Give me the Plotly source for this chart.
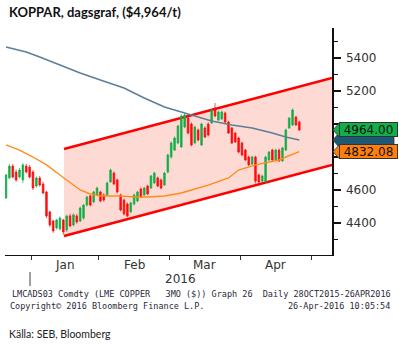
import plotly.graph_objects as go

# ---- LME copper 3M, daily candles (trading-day index 0..87) ----
opens = [4552, 4673, 4745, 4709, 4679, 4661, 4745, 4739,
         4709, 4624, 4673, 4636, 4588, 4467, 4412, 4370, 4364, 4418, 4358, 4443,
         4388, 4443, 4412, 4430, 4509, 4564, 4527, 4570,
         4588, 4570, 4570, 4649, 4703, 4661, 4570, 4539, 4515, 4467, 4515, 4533,
         4606, 4570, 4624, 4612, 4643, 4673, 4661, 4630, 4709,
         4800, 4842, 4885, 4861, 4982, 5036, 5000, 4885, 4964, 4873, 4976,
         5000, 5006, 5097, 5024, 5030, 5067, 5012, 4976, 4945, 4915,
         4885, 4842, 4800, 4758, 4800, 4691, 4655, 4649, 4782, 4842,
         4782, 4842, 4776, 4842, 4976, 4994, 5042, 5012]
highs = [4697, 4758, 4757, 4725, 4733, 4764, 4758, 4752,
         4721, 4682, 4685, 4650, 4595, 4475, 4420, 4425, 4440, 4425, 4450, 4455,
         4460, 4455, 4500, 4515, 4565, 4572, 4595, 4620,
         4595, 4580, 4650, 4730, 4712, 4670, 4578, 4548, 4525, 4530, 4578, 4595,
         4615, 4620, 4632, 4692, 4710, 4682, 4670, 4710, 4820,
         4895, 4925, 4995, 5060, 5065, 5045, 5010, 4990, 4972, 5008, 4985,
         5010, 5092, 5127, 5080, 5082, 5075, 5020, 4982, 4952, 4922,
         4892, 4850, 4808, 4808, 4808, 4700, 4692, 4808, 4838, 4850,
         4850, 4850, 4862, 4972, 5042, 5095, 5050, 5020]
lows = [4545, 4667, 4670, 4650, 4670, 4643, 4700, 4670,
        4600, 4615, 4620, 4575, 4430, 4375, 4340, 4360, 4355, 4328, 4345, 4375,
        4380, 4395, 4405, 4420, 4500, 4500, 4520, 4565,
        4525, 4530, 4565, 4643, 4630, 4580, 4470, 4445, 4435, 4460, 4505, 4525,
        4550, 4565, 4570, 4605, 4636, 4618, 4605, 4624, 4700,
        4790, 4836, 4878, 4855, 4975, 4938, 4865, 4878, 4895, 4866, 4915,
        4925, 5000, 5040, 5018, 5024, 5006, 4940, 4878, 4885, 4822,
        4805, 4775, 4745, 4752, 4640, 4642, 4648, 4642, 4775, 4775,
        4775, 4770, 4770, 4836, 4970, 4988, 4988, 4958]
closes = [4691, 4745, 4679, 4661, 4721, 4752, 4709, 4679,
          4612, 4673, 4630, 4582, 4443, 4388, 4352, 4418, 4430, 4346, 4443, 4382,
          4449, 4406, 4491, 4509, 4558, 4509, 4588, 4612,
          4533, 4539, 4643, 4721, 4636, 4588, 4479, 4455, 4443, 4521, 4570, 4588,
          4558, 4612, 4576, 4685, 4703, 4624, 4612, 4703, 4812,
          4885, 4915, 4988, 5049, 5055, 4945, 4873, 4982, 4903, 5000, 4921,
          4933, 5085, 5049, 5073, 5073, 5012, 4945, 4885, 4891, 4830,
          4812, 4782, 4752, 4800, 4655, 4649, 4685, 4800, 4830, 4782,
          4842, 4776, 4855, 4964, 5036, 5085, 4994, 4964]
day_idx = list(range(len(closes)))

# moving averages, read at selected trading days
ma_slow_idx = [0, 6, 10, 16, 22, 28, 35, 41, 47, 52, 56, 61, 67, 73, 79, 83, 87]
ma_slow = [5467, 5436, 5406, 5358, 5309, 5267, 5218, 5158, 5103, 5073, 5048,
           5018, 4994, 4976, 4945, 4921, 4903]
ma_fast_idx = [0, 4, 8, 12, 16, 19, 22, 25, 28, 31, 34, 38, 42, 47, 52, 55, 60,
               66, 69, 74, 78, 81, 83, 87]
ma_fast = [4873, 4842, 4800, 4752, 4691, 4643, 4600, 4576, 4564, 4564, 4564,
           4558, 4558, 4564, 4582, 4600, 4630, 4673, 4721, 4752, 4770, 4782,
           4800, 4832.08]

# trend channel end points
channel_x = [17.2, 96.7]
channel_upper = [4849, 5279]
channel_lower = [4321, 4752]

# calendar axis
month_bounds = [7.5, 27.5, 48.5, 69.5, 90.5]
month_names = ["Jan", "Feb", "Mar", "Apr"]
year_label = "2016"
y_ticks = [4400, 4600, 4800, 5000, 5200, 5400]
y_tick_text = ["4400", "4600", "", "", "5200", "5400"]
y_minor = [4300, 4500, 4700, 4900, 5100, 5300, 5500]

GREEN = "#12AE48"
RED = "#FF0A0A"
W, H = 399, 347
L, R, T, B = 5, 332, 28, 255     # plot area in pixels
X_RANGE = [-0.3, 96.7]
Y_RANGE = [4206, 5582]


def pxx(px):
    return (px - L) / (R - L)


def pxy(py):
    return (B - py) / (B - T)


fig = go.Figure()

shapes = []
annotations = []

# channel: shaded band and its two red edges, kept beneath the candles
shapes.append(dict(
    type="path", xref="x", yref="y", layer="below",
    path=(f"M {channel_x[0]},{channel_lower[0]} L {channel_x[1]},{channel_lower[1]} "
          f"L {channel_x[1]},{channel_upper[1]} L {channel_x[0]},{channel_upper[0]} Z"),
    fillcolor="#FDDAD4", line=dict(width=0)))
for edge in (channel_upper, channel_lower):
    shapes.append(dict(type="line", xref="x", yref="y", layer="below",
                       x0=channel_x[0], x1=channel_x[1], y0=edge[0], y1=edge[1],
                       line=dict(color="#FF0000", width=2.6)))

fig.add_trace(go.Candlestick(
    x=day_idx, open=opens, high=highs, low=lows, close=closes,
    increasing=dict(line=dict(color=GREEN, width=0.7), fillcolor=GREEN),
    decreasing=dict(line=dict(color=RED, width=0.7), fillcolor=RED),
    whiskerwidth=0, showlegend=False))

fig.add_trace(go.Scatter(x=ma_slow_idx, y=ma_slow, mode="lines",
                         line=dict(color="#5F7E97", width=1.6),
                         hoverinfo="skip", showlegend=False))
fig.add_trace(go.Scatter(x=ma_fast_idx, y=ma_fast, mode="lines",
                         line=dict(color="#FF8C1A", width=1.4),
                         hoverinfo="skip", showlegend=False))

# last-value tags on the price axis; the slow-average tag sits behind the others
half = 7.2 * (Y_RANGE[1] - Y_RANGE[0]) / (B - T)
shapes.append(dict(
    type="path", xref="paper", yref="y", layer="above",
    path=(f"M {pxx(333)},{ma_slow[-1]} L {pxx(339)},{ma_slow[-1] + half} "
          f"L {pxx(394)},{ma_slow[-1] + half} L {pxx(394)},{ma_slow[-1] - half} "
          f"L {pxx(339)},{ma_slow[-1] - half} Z"),
    fillcolor="#1E5877", line=dict(color="#333333", width=0.8)))
tags = [(closes[-1], "#12AE48"), (ma_fast[-1], "#FF7F0E")]
for val, col in tags:
    shapes.append(dict(
        type="path", xref="paper", yref="y", layer="above",
        path=f"M {pxx(333)},{val} L {pxx(339.5)},{val + half} L {pxx(339.5)},{val - half} Z",
        fillcolor=col, line=dict(color="#333333", width=0.8)))
    annotations.append(dict(
        xref="paper", yref="y", x=pxx(338.5), y=val, xanchor="left", yanchor="middle",
        text=f"{val:.2f}", showarrow=False, bgcolor=col, bordercolor="#333333",
        borderwidth=1, borderpad=1, width=55, height=11, align="center",
        font=dict(family="DejaVu Sans", size=12, color="#111111")))

# month labels and year
for k, name in enumerate(month_names):
    annotations.append(dict(
        xref="x", yref="paper", x=(month_bounds[k] + month_bounds[k + 1]) / 2,
        y=pxy(265), text=name, showarrow=False, yanchor="middle",
        font=dict(family="DejaVu Sans", size=12, color="#333333")))
annotations.append(dict(
    xref="paper", yref="paper", x=pxx(180), y=pxy(279), text=year_label,
    showarrow=False, yanchor="middle",
    font=dict(family="DejaVu Sans", size=12, color="#333333")))
shapes.append(dict(type="line", xref="paper", yref="paper",
                   x0=pxx(30), x1=pxx(30), y0=pxy(272), y1=pxy(286),
                   line=dict(color="#A0A0A0", width=2)))

# title and footers
annotations.append(dict(
    xref="paper", yref="paper", x=pxx(7), y=pxy(12), xanchor="left", yanchor="middle",
    text="<b>KOPPAR, dagsgraf, ($4,964/t)</b>", showarrow=False,
    font=dict(family="Lato", size=13, color="#111111")))
foot_font = dict(family="DejaVu Sans Mono", size=8.5, color="#2A2A3A")
annotations.append(dict(
    xref="paper", yref="paper", x=pxx(10), y=pxy(294), xanchor="left", yanchor="middle",
    text="LMCADS03 Comdty (LME COPPER   3MO ($)) Graph 26  Daily 28OCT2015-26APR2016",
    showarrow=False, font=foot_font))
annotations.append(dict(
    xref="paper", yref="paper", x=pxx(8), y=pxy(306), xanchor="left", yanchor="middle",
    text="Copyright© 2016 Bloomberg Finance L.P.", showarrow=False, font=foot_font))
annotations.append(dict(
    xref="paper", yref="paper", x=pxx(392), y=pxy(306), xanchor="right", yanchor="middle",
    text="26-Apr-2016 10:05:54", showarrow=False, font=foot_font))
annotations.append(dict(
    xref="paper", yref="paper", x=pxx(7), y=pxy(334), xanchor="left", yanchor="middle",
    text="Källa: SEB, Bloomberg", showarrow=False,
    font=dict(family="Lato", size=10.5, color="#222222")))

fig.update_layout(
    width=W, height=H,
    margin=dict(l=L, r=W - R, t=T, b=H - B, pad=0),
    paper_bgcolor="white", plot_bgcolor="white",
    showlegend=False, hovermode=False,
    shapes=shapes, annotations=annotations,
    xaxis=dict(range=X_RANGE, rangeslider=dict(visible=False),
               showgrid=False, zeroline=False, showline=True,
               linecolor="#111111", linewidth=1,
               tickvals=month_bounds, ticktext=[""] * len(month_bounds),
               ticks="outside", ticklen=4, tickwidth=1, tickcolor="#333333"),
    yaxis=dict(range=Y_RANGE, side="right", showgrid=False, zeroline=False,
               showline=True, linecolor="#111111", linewidth=1.5,
               tickvals=y_ticks, ticktext=y_tick_text,
               ticks="outside", ticklen=7, tickwidth=2.5,
               tickcolor="#111111", ticklabelstandoff=3,
               tickfont=dict(family="DejaVu Sans", size=12, color="#333333"),
               minor=dict(tickvals=y_minor, ticks="outside", ticklen=4,
                          tickwidth=1, tickcolor="#111111")),
)

fig.write_html("out.html", config=dict(displayModeBar=False, staticPlot=True))
